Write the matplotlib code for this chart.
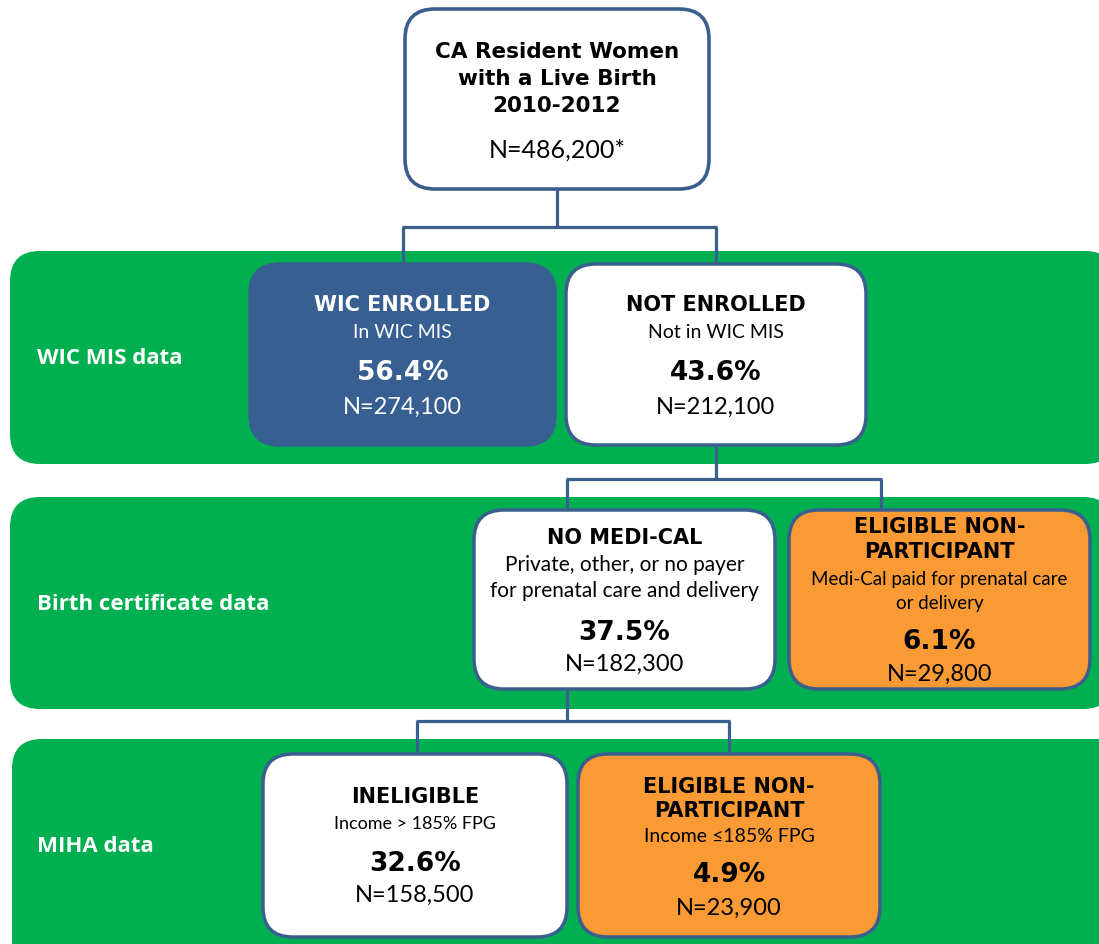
import matplotlib.pyplot as plt
from matplotlib.patches import FancyBboxPatch

# ---- data ----
top_title = ["CA Resident Women", "with a Live Birth", "2010-2012"]
top_count = "N=486,200*"

band_labels = ["WIC MIS data", "Birth certificate data", "MIHA data"]

node_titles = [
    ["WIC ENROLLED"],
    ["NOT ENROLLED"],
    ["NO MEDI-CAL"],
    ["ELIGIBLE NON-", "PARTICIPANT"],
    ["INELIGIBLE"],
    ["ELIGIBLE NON-", "PARTICIPANT"],
]
node_notes = [
    ["In WIC MIS"],
    ["Not in WIC MIS"],
    ["Private, other, or no payer", "for prenatal care and delivery"],
    ["Medi-Cal paid for prenatal care", "or delivery"],
    ["Income > 185% FPG"],
    ["Income \u2264185% FPG"],
]
node_pcts = [56.4, 43.6, 37.5, 6.1, 32.6, 4.9]
node_counts = [274100, 212100, 182300, 29800, 158500, 23900]
node_kind = ["wic", "white", "white", "orange", "white", "orange"]

# ---- layout (pixel coordinates, y down) ----
GREEN = "#00B050"
BLUE = "#3A5F8E"
WIC_FILL = "#375F91"
ORANGE = "#F99A35"

bands = [(10, 252, 1105, 213), (10, 498, 1103, 212), (12, 740, 1120, 240)]
band_text_y = [359, 605, 847]

# x, y, w, h
node_boxes = [
    (250, 265, 305, 181),
    (566, 265, 300, 181),
    (474, 511, 301, 179),
    (789, 511, 301, 179),
    (263, 755, 304, 183),
    (578, 755, 302, 183),
]
# y of each text line inside a node: titles..., notes..., pct, count
node_line_y = [
    [305, 332, 373, 407],
    [305, 332, 373, 407],
    [538, 565, 591, 633, 664],
    [527, 552, 579, 603, 642, 674],
    [797, 824, 864, 895],
    [787, 811, 836, 875, 908],
]
node_note_size = [14, 14, 15, 13.5, 13, 14]
top_box = (405, 10, 304, 180)

fig = plt.figure(figsize=(10.99, 9.45), dpi=100)
ax = fig.add_axes([0, 0, 1, 1])
ax.set_xlim(0, 1099)
ax.set_ylim(945, 0)
ax.axis("off")

HEAD = dict(family="DejaVu Sans", fontweight="bold")
BODY = dict(family="Lato")
LBL = dict(family="Open Sans", fontweight="bold")

for (x, y, w, h), lbl, ty in zip(bands, band_labels, band_text_y):
    ax.add_patch(FancyBboxPatch((x, y), w, h, boxstyle="round,pad=0,rounding_size=30",
                                fc=GREEN, ec="none", zorder=1))
    ax.text(37, ty, lbl, color="white", fontsize=16, va="center", ha="left", zorder=5, **LBL)


def connector(x0, y0, y_mid, xs, y1):
    kw = dict(color=BLUE, lw=2.3, zorder=2, solid_capstyle="butt")
    ax.plot([x0, x0], [y0, y_mid], **kw)
    ax.plot([min(xs) - 1, max(xs) + 1], [y_mid, y_mid], **kw)
    for xx in xs:
        ax.plot([xx, xx], [y_mid, y1], **kw)


connector(557, 190, 228, [403, 716], 266)
connector(716, 446, 480, [567, 881], 512)
connector(567, 690, 722, [417, 729], 756)

# top box
x, y, w, h = top_box
ax.add_patch(FancyBboxPatch((x, y), w, h, boxstyle="round,pad=0,rounding_size=30",
                            fc="white", ec=BLUE, lw=2.6, zorder=3))
cx = x + w / 2
for i, line in enumerate(top_title):
    ax.text(cx, 52 + i * 27, line, fontsize=15.5, ha="center", va="center", zorder=5, **HEAD)
ax.text(cx, 150, top_count, fontsize=18, ha="center", va="center", zorder=5, **BODY)

# nodes
for (x, y, w, h), titles, notes, pct, cnt, kind, ys, nsize in zip(
        node_boxes, node_titles, node_notes, node_pcts, node_counts, node_kind,
        node_line_y, node_note_size):
    if kind == "wic":
        fc, ec, tc = WIC_FILL, WIC_FILL, "white"
    elif kind == "orange":
        fc, ec, tc = ORANGE, BLUE, "black"
    else:
        fc, ec, tc = "white", BLUE, "black"
    ax.add_patch(FancyBboxPatch((x, y), w, h, boxstyle="round,pad=0,rounding_size=30",
                                fc=fc, ec=ec, lw=2.5, zorder=3))
    cx = x + w / 2
    k = 0
    for line in titles:
        ax.text(cx, ys[k], line, color=tc, fontsize=15, ha="center", va="center",
                zorder=5, **HEAD)
        k += 1
    for line in notes:
        ax.text(cx, ys[k], line, color=tc, fontsize=nsize, ha="center", va="center",
                zorder=5, **BODY)
        k += 1
    ax.text(cx, ys[k], f"{pct:.1f}%", color=tc, fontsize=19, ha="center", va="center",
            zorder=5, **HEAD)
    ax.text(cx, ys[k + 1], f"N={cnt:,}", color=tc, fontsize=17, ha="center", va="center",
            zorder=5, **BODY)

fig.savefig("out.png", dpi=100, facecolor="white")
